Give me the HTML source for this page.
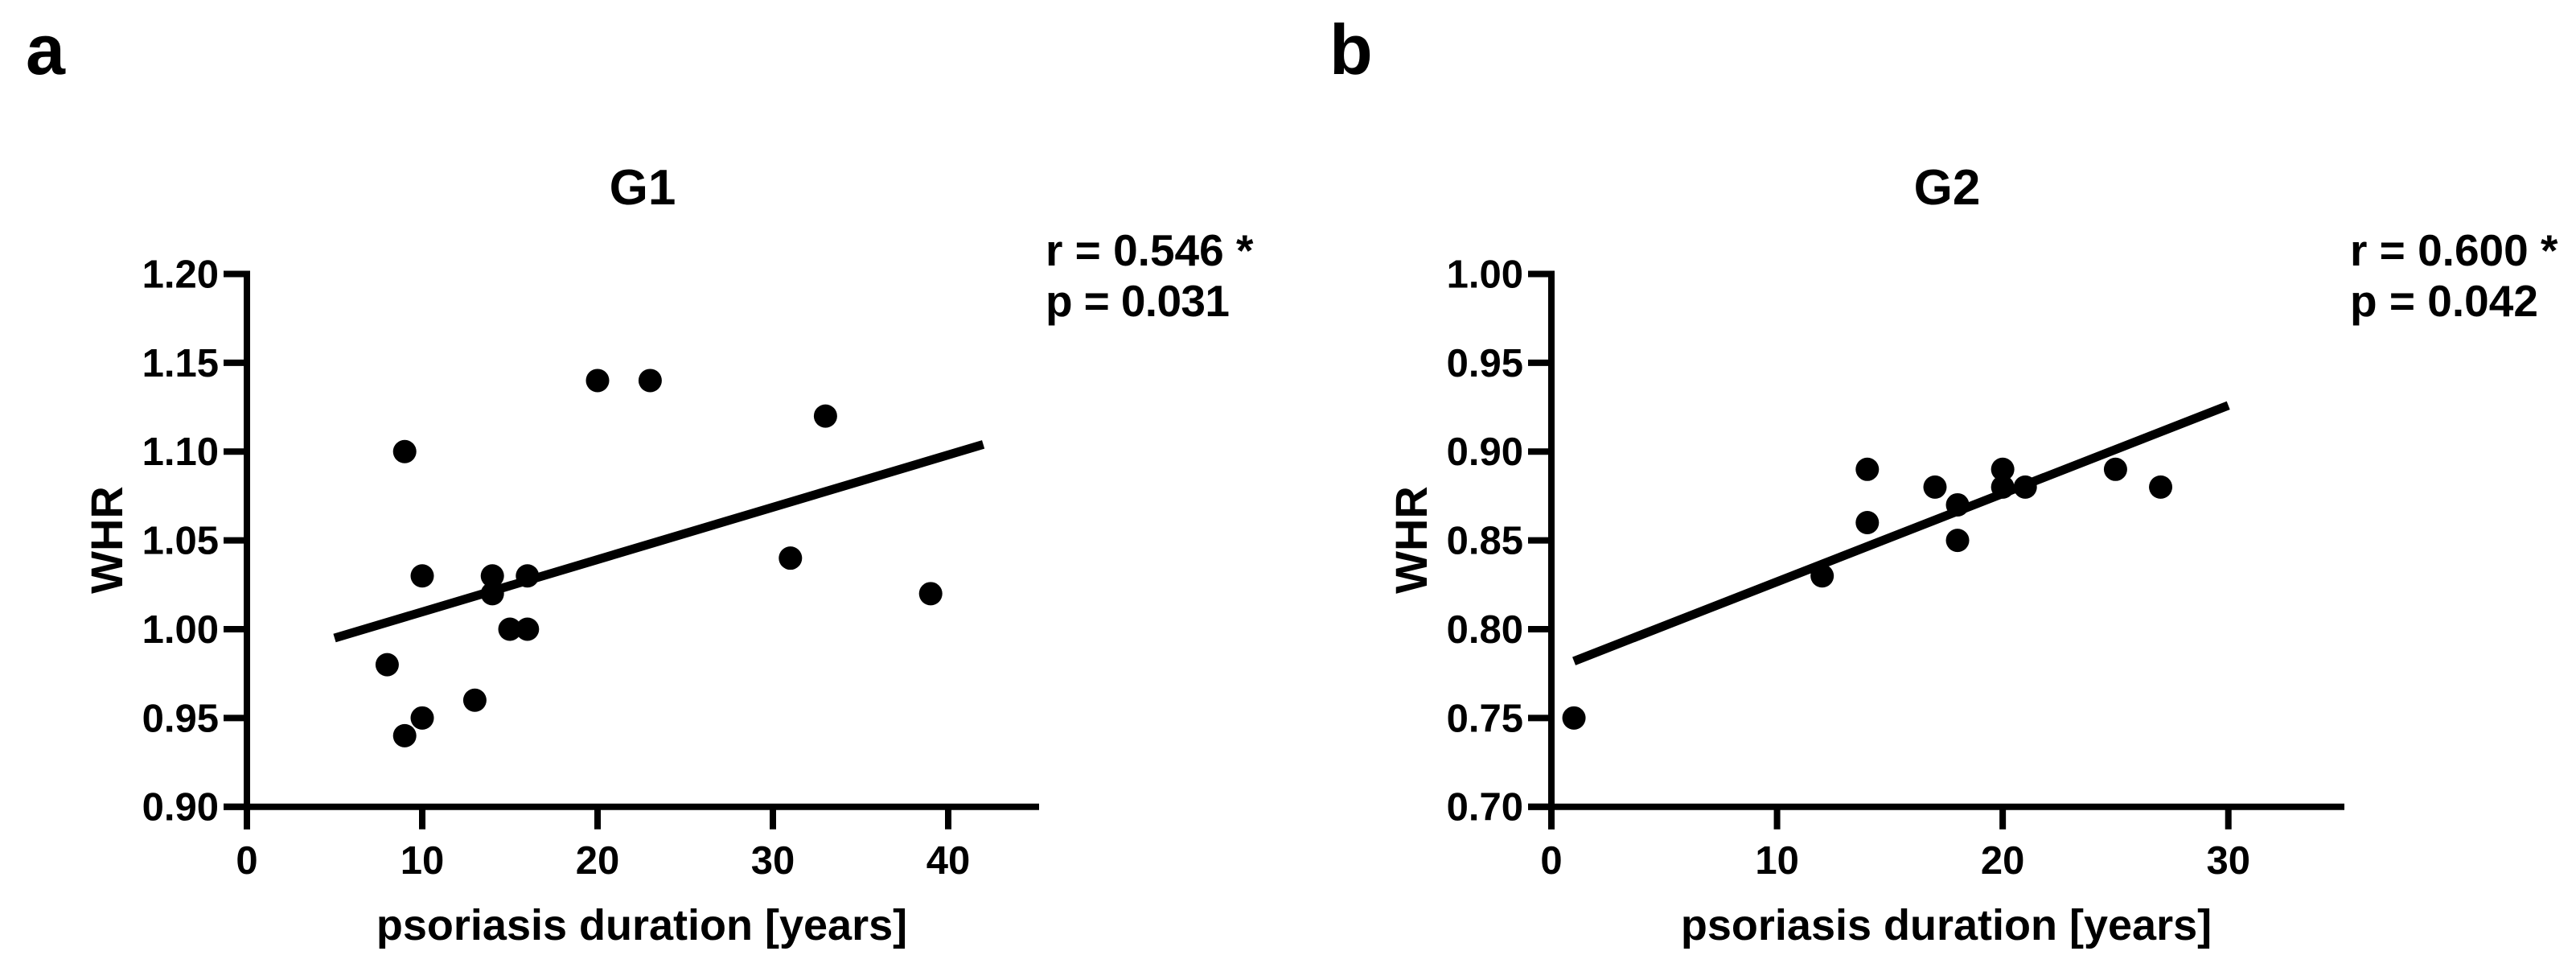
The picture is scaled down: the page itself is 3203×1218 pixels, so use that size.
<!DOCTYPE html>
<html>
<head>
<meta charset="utf-8">
<title>WHR vs psoriasis duration</title>
<style>
html,body{margin:0;padding:0;background:#fff;width:3203px;height:1218px;overflow:hidden}
svg{display:block}
text{font-family:"Liberation Sans",sans-serif;font-weight:bold;fill:#000}
</style>
</head>
<body>
<svg id="figure" width="3203" height="1218" viewBox="0 0 3203 1218" xmlns="http://www.w3.org/2000/svg">
  <rect width="3203" height="1218" fill="#fff"/>
  <text x="32" y="92" font-size="88">a</text>
  <text x="1653" y="92" font-size="88">b</text>
  <text x="799" y="254" font-size="62" text-anchor="middle">G1</text>
  <text x="2421" y="254" font-size="62" text-anchor="middle">G2</text>
  <text x="798" y="1168" font-size="54" text-anchor="middle">psoriasis duration [years]</text>
  <text x="2420" y="1168" font-size="54" text-anchor="middle">psoriasis duration [years]</text>
  <text transform="translate(152 671) rotate(-90)" font-size="56" text-anchor="middle">WHR</text>
  <text transform="translate(1774 671) rotate(-90)" font-size="56" text-anchor="middle">WHR</text>
  <text x="1300" y="330" font-size="55">r = 0.546 *</text>
  <text x="1300" y="393" font-size="55" textLength="229">p = 0.031</text>
  <text x="2922" y="330" font-size="55">r = 0.600 *</text>
  <text x="2922" y="393" font-size="55">p = 0.042</text>
  <g id="panel-g1"></g>
  <g id="panel-g2"></g>
</svg>
<script>
const g1Years = [8, 9, 9, 10, 10, 13, 14, 14, 15, 16, 16, 20, 23, 31, 33, 39];
const g1Whr = [0.98, 1.10, 0.94, 1.03, 0.95, 0.96, 1.03, 1.02, 1.00, 1.03, 1.00, 1.14, 1.14, 1.04, 1.12, 1.02];
const g1FitYears = [5, 42];
const g1FitWhr = [0.995, 1.104];
const g1XTicks = [0, 10, 20, 30, 40];
const g1YTicks = ["0.90", "0.95", "1.00", "1.05", "1.10", "1.15", "1.20"];
const g1XMax = 45;

const g2Years = [1, 12, 14, 14, 17, 18, 18, 20, 20, 21, 25, 27];
const g2Whr = [0.75, 0.83, 0.89, 0.86, 0.88, 0.87, 0.85, 0.89, 0.88, 0.88, 0.89, 0.88];
const g2FitYears = [1, 30];
const g2FitWhr = [0.782, 0.926];
const g2XTicks = [0, 10, 20, 30];
const g2YTicks = ["0.70", "0.75", "0.80", "0.85", "0.90", "0.95", "1.00"];
const g2XMax = 35;

const SVG_NS = "http://www.w3.org/2000/svg";

function make(parent, tag, attrs) {
  const el = document.createElementNS(SVG_NS, tag);
  for (const k in attrs) el.setAttribute(k, attrs[k]);
  parent.appendChild(el);
  return el;
}

function drawPanel(group, left, right, years, whr, fitYears, fitWhr, xTicks, yTicks, xMax) {
  const top = 340.5, bottom = 1002.7, stroke = 8, tickLen = 28;
  const yMin = parseFloat(yTicks[0]);
  const yMax = parseFloat(yTicks[yTicks.length - 1]);
  const sx = v => left + (v / xMax) * (right - left);
  const sy = v => bottom - ((v - yMin) / (yMax - yMin)) * (bottom - top);

  const yAxis = make(group, "line", {x1: left, y1: top - stroke / 2, x2: left, y2: bottom + tickLen, stroke: "#000", "stroke-width": stroke});
  
  

  const xAxis = make(group, "line", {x1: left - tickLen - stroke / 2 + 3, y1: bottom, x2: right + 4, y2: bottom, stroke: "#000", "stroke-width": stroke});
  
  

  yTicks.forEach(label => {
    const v = parseFloat(label);
    const tick = make(group, "line", {x1: left - 29, y1: sy(v), x2: left, y2: sy(v), stroke: "#000", "stroke-width": stroke});
    
    
    const t = make(group, "text", {x: left - 35, y: sy(v) + 17, "font-size": 49, "text-anchor": "end"});
    t.textContent = label;
    
    
  });

  xTicks.forEach(v => {
    const tick = make(group, "line", {x1: sx(v), y1: bottom, x2: sx(v), y2: bottom + tickLen, stroke: "#000", "stroke-width": stroke});
    
    
    const t = make(group, "text", {x: sx(v), y: 1086, "font-size": 49, "text-anchor": "middle"});
    t.textContent = String(v);
    
    
  });

  const fit = make(group, "line", {x1: sx(fitYears[0]), y1: sy(fitWhr[0]), x2: sx(fitYears[1]), y2: sy(fitWhr[1]), stroke: "#000", "stroke-width": 11});
  
  

  years.forEach((yr, i) => {
    const pt = make(group, "circle", {cx: sx(yr), cy: sy(whr[i]), r: 14.5, fill: "#000"});
    
    
  });
}

drawPanel(document.getElementById("panel-g1"), 307, 1288, g1Years, g1Whr, g1FitYears, g1FitWhr, g1XTicks, g1YTicks, g1XMax);
drawPanel(document.getElementById("panel-g2"), 1929, 2911, g2Years, g2Whr, g2FitYears, g2FitWhr, g2XTicks, g2YTicks, g2XMax);
</script>
</body>
</html>
